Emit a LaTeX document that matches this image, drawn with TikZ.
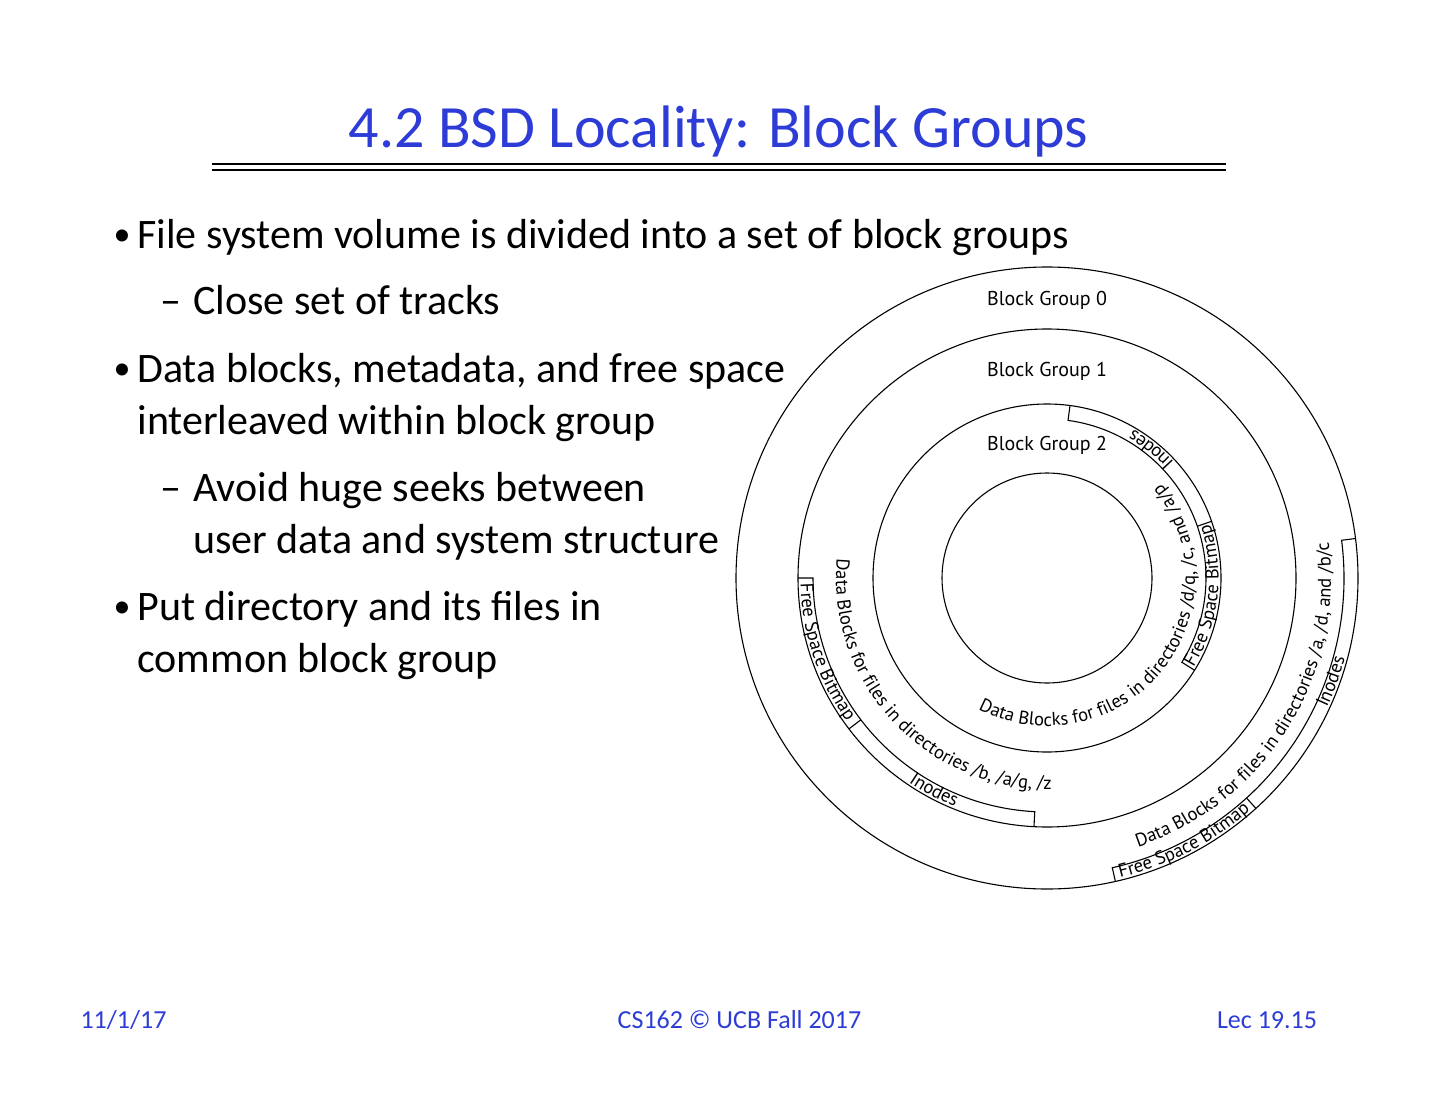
\documentclass[tikz,border=0pt]{standalone}
\usepackage{fontspec}
\setmainfont{Carlito}
\newfontfamily\diagfont{PT Sans}
\usetikzlibrary{decorations.text}
\definecolor{slideblue}{RGB}{45,60,215}
\newcommand\curvefont{\diagfont\fontsize{9.3}{11}\selectfont}
\begin{document}
\begin{tikzpicture}[x=0.5pt,y=0.5pt,
  bodytext/.style={anchor=base west, inner sep=0pt, font=\fontsize{21}{25}\selectfont},
  bulletmark/.style={anchor=base, inner sep=0pt, font=\fontsize{17}{20}\selectfont},
  titletext/.style={anchor=base, inner sep=0pt, text=slideblue, font=\fontsize{30}{36}\selectfont},
  foottext/.style={anchor=base, inner sep=0pt, text=slideblue, font=\fontsize{13}{15}\selectfont},
  grouplabel/.style={inner sep=0pt, font=\diagfont\fontsize{10}{12}\selectfont},
  ring/.style={line width=0.55pt, black},
  curvedlabel/.style={decorate, decoration={text along path, text align=center, text={|\curvefont|#1}}}]
\useasboundingbox (0,0) rectangle (1440,-1113);
\fill[white] (0,0) rectangle (1440,-1113);

% title
\node[titletext] (title) at (718.5,-148) {4.2 BSD Locality: Block Groups};
\coordinate (ruleL) at (212,-164);
\coordinate (ruleR) at (1226,-164);
\draw[line width=1.4pt] (ruleL) -- (ruleR);
\draw[line width=0.9pt] ([yshift=-6*0.5pt]ruleL) -- ([yshift=-6*0.5pt]ruleR);

% bullets
\node[bulletmark] (b1) at (122,-245) {•};
\node[bodytext] (t1) at (137,-248) {File system volume is divided into a set of block groups};
\node[bodytext] (d1) at (160,-314) {–};
\node[bodytext] (t2) at (193,-314) {Close set of tracks};
\node[bulletmark] (b2) at (122,-379) {•};
\node[bodytext] (t3) at (137,-382) {Data blocks, metadata, and free space};
\node[bodytext] (t4) at (137,-434) {interleaved within block group};
\node[bodytext] (d2) at (160,-501) {–};
\node[bodytext] (t5) at (193,-501) {Avoid huge seeks between};
\node[bodytext] (t6) at (193,-553) {user data and system structure};
\node[bulletmark] (b3) at (122,-617) {•};
\node[bodytext] (t7) at (137,-620) {Put directory and its files in};
\node[bodytext] (t8) at (137,-672) {common block group};

% footer
\node[foottext] (f1) at (123.5,-1028) {11/1/17};
\node[foottext] (f2) at (739.5,-1028) {CS162 © UCB Fall 2017};
\node[foottext] (f3) at (1267,-1028) {Lec 19.15};

% diagram
\begin{scope}[shift={(1047,-578)}]
  \draw[ring] (0,0) circle[radius=311];
  \draw[ring] (0,0) circle[radius=249];
  \draw[ring] (0,0) circle[radius=174];
  \draw[ring] (0,0) circle[radius=105];

  \node[grouplabel] (bg0) at (0,278) {Block Group 0};
  \node[grouplabel] (bg1) at (0,207) {Block Group 1};
  \node[grouplabel] (bg2) at (0,133) {Block Group 2};

  % strips: block group 2
  \draw[ring] (82.4:174) -- (82.4:159) arc[start angle=82.4, end angle=-32, radius=159] -- (-32:174);
  \draw[ring] (19:159) -- (19:174);
  % strips: block group 1
  \draw[ring] (180:249) -- (180:234) arc[start angle=180, end angle=267, radius=234] -- (267:249);
  \draw[ring] (217.3:234) -- (217.3:249);
  % strips: block group 0
  \draw[ring] (7.3:311) -- (7.3:297) arc[start angle=7.3, end angle=-77.3, radius=297] -- (-77.3:311);
  \draw[ring] (-47.8:297) -- (-47.8:311);

  % curved labels
  \path[curvedlabel={Data Blocks for files in directories /d/q, /c, and /a/p}] (228:148) arc[start angle=228, end angle=414, radius=148];
  \path[curvedlabel={Data Blocks for files in directories /b, /a/g, /z}] (140:211) arc[start angle=140, end angle=306, radius=211];
  \path[curvedlabel={Data Blocks for files in directories /a, /d, and /b/c}] (250:284) arc[start angle=250, end angle=406, radius=284];
  \path[curvedlabel={Inodes}] (21:171.5) arc[start angle=21, end angle=81, radius=171.5];
  \path[curvedlabel={Free Space Bitmap}] (318:171.5) arc[start angle=318, end angle=389, radius=171.5];
  \path[curvedlabel={Free Space Bitmap}] (168:246.5) arc[start angle=168, end angle=229, radius=246.5];
  \path[curvedlabel={Inodes}] (220:246.5) arc[start angle=220, end angle=264, radius=246.5];
  \path[curvedlabel={Inodes}] (318:308.5) arc[start angle=318, end angle=362, radius=308.5];
  \path[curvedlabel={Free Space Bitmap}] (268:308.5) arc[start angle=268, end angle=327, radius=308.5];
\end{scope}
\end{tikzpicture}
\end{document}
